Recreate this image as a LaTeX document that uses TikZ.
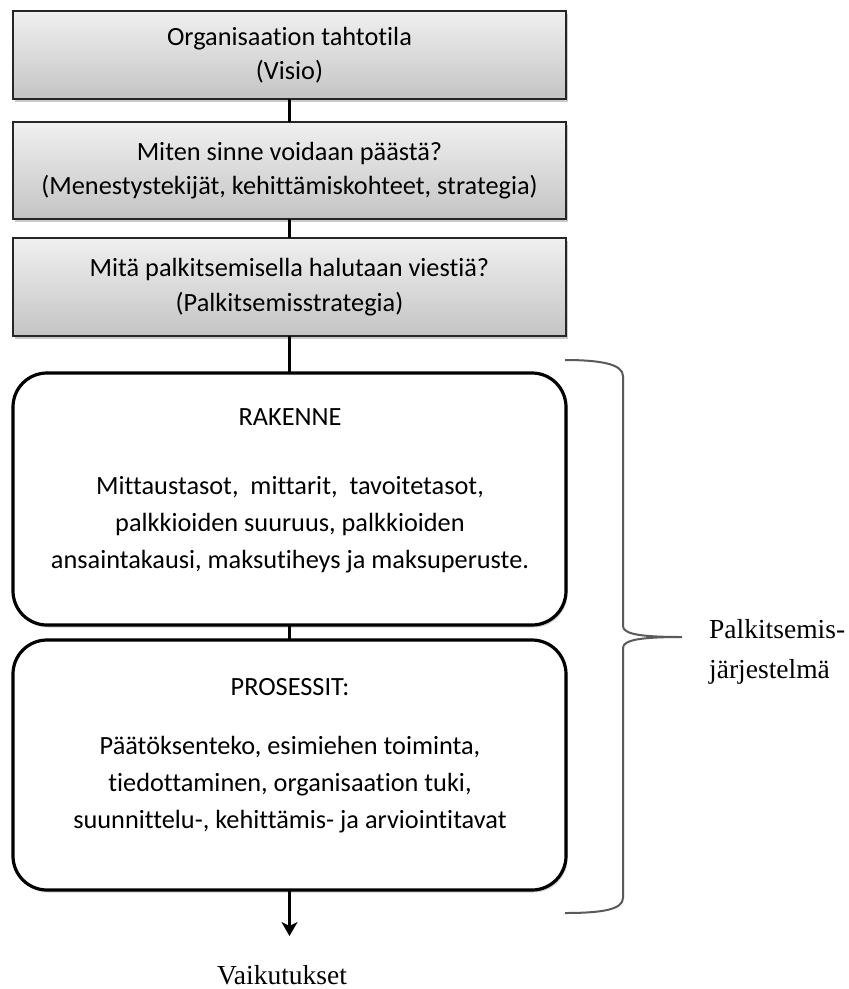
\documentclass[tikz,border=0pt]{standalone}
\usepackage{fontspec}
\setmainfont{Carlito}[Ligatures=NoCommon]
\newfontfamily\serifl{Liberation Serif}
\usetikzlibrary{shadows,arrows.meta}
\definecolor{boxtop}{RGB}{240,240,240}
\definecolor{boxbot}{RGB}{196,196,196}
\definecolor{bracegray}{RGB}{90,90,90}
\tikzset{
  topbox/.style={draw=black!85, line width=1.6pt, top color=boxtop, bottom color=boxbot,
    minimum width=553pt, inner sep=0pt, outer sep=0pt, align=center,
    font=\fontsize{26.3}{34.5}\selectfont,
    drop shadow={shadow xshift=2pt, shadow yshift=-3pt, opacity=0.35, fill=black!60}},
  roundbox/.style={draw=black, line width=3.2pt, fill=white, rounded corners=34pt,
    minimum width=553pt, inner sep=0pt, outer sep=0pt,
    drop shadow={shadow xshift=1.5pt, shadow yshift=-2.5pt, opacity=0.3, fill=black!60}},
  boxtext/.style={align=center, inner sep=0pt, font=\fontsize{26.3}{37}\selectfont},
  conn/.style={line width=3pt, black},
  serlabel/.style={inner sep=0pt, font=\serifl\fontsize{27.5}{40}\selectfont}
}
\begin{document}
\begin{tikzpicture}[x=1pt,y=-1pt]
\useasboundingbox (0,0) rectangle (849,989);
\node[topbox, minimum height=88pt] (b1) at (289.5,55) {Organisaation tahtotila\\(Visio)};
\node[topbox, minimum height=97pt] (b2) at (289.5,170.5) {Miten sinne voidaan päästä?\\(Menestystekijät, kehittämiskohteet, strategia)};
\node[topbox, minimum height=98pt] (b3) at (289.5,287) {Mitä palkitsemisella halutaan viestiä?\\(Palkitsemisstrategia)};
\node[roundbox, minimum height=252pt] (rak) at (289.5,499) {};
\node[roundbox, minimum height=250pt] (pro) at (289.5,765) {};
\node[boxtext] (rakT) at (290,417) {RAKENNE};
\node[boxtext] (rakB) at (290,525) {Mittaustasot, \ mittarit, \ tavoitetasot,\\palkkioiden suuruus, palkkioiden\\ansaintakausi, maksutiheys ja maksuperuste.};
\node[boxtext] (proT) at (290,687) {PROSESSIT:};
\node[boxtext] (proB) at (290,785) {Päätöksenteko, esimiehen toiminta,\\tiedottaminen, organisaation tuki,\\suunnittelu-, kehittämis- ja arviointitavat};
\coordinate (end) at (289.5,936);
\draw[conn] (b1.south) -- (b2.north);
\draw[conn] (b2.south) -- (b3.north);
\draw[conn] (b3.south) -- (rak.north);
\draw[conn] (rak.south) -- (pro.north);
\draw[conn, -{Stealth[length=14pt, width=16pt, inset=4pt]}] (pro.south) -- (end);
\node[serlabel] (vaik) at (282,975) {Vaikutukset};
\draw[bracegray, line width=2pt] (565,360) .. controls (600,360) and (623,364) .. (623,376)
  -- (623,626) .. controls (623,634) and (640,637) .. (682,637)
  .. controls (640,637) and (623,640) .. (623,648)
  -- (623,898) .. controls (623,910) and (600,913) .. (565,913);
\node[serlabel, anchor=west, align=left] (psys) at (709,652) {Palkitsemis-\\järjestelmä};
\end{tikzpicture}
\end{document}
